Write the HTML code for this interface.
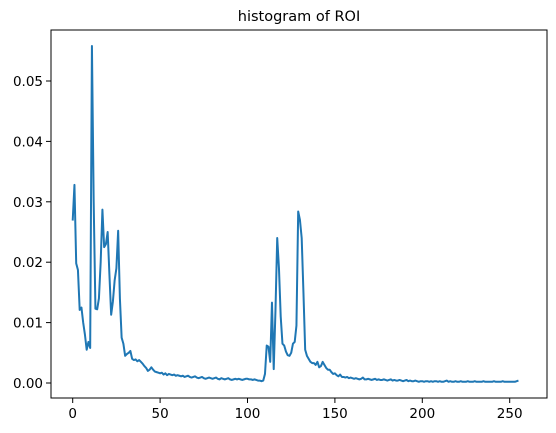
<!DOCTYPE html>
<html><head><meta charset="utf-8"><style>
html,body{margin:0;padding:0;background:#fff;}
svg{display:block;font-family:"DejaVu Sans","Liberation Sans",sans-serif;}
</style></head><body>
<svg id="chart" width="556" height="433">
<text x="299" y="21" text-anchor="middle" font-size="14.5">histogram of ROI</text>
<g id="plot"></g>
<rect x="51" y="30" width="496" height="368" fill="none" stroke="#000" stroke-width="1"/>
</svg>
<script>
const xTicks = [0, 50, 100, 150, 200, 250];
const yTicks = [0.00, 0.01, 0.02, 0.03, 0.04, 0.05];
const yTickLabels = ["0.00", "0.01", "0.02", "0.03", "0.04", "0.05"];
const histValues = [
.0269,.0328,.0198,.0187,.0121,.0125,.0100,.0080,.0055,
.0068,.0058,.0558,.0300,.0123,.0122,.0140,.0200,.0287,.0225,
.0230,.0250,.0180,.0113,.0135,.0170,.0190,.0252,.0140,.0075,
.0065,.0045,.0048,.0050,.0053,.0040,.0038,.0039,.0036,.0038,
.0035,.0032,.0028,.0025,.0020,.0022,.0026,.0022,.0019,.0018,
.0017,.0016,.0017,.0014,.0016,.0013,.0015,.0014,.0013,.0014,
.0012,.0013,.0012,.0011,.0012,.0010,.0011,.0012,.0010,.0009,
.0010,.0011,.0009,.0008,.0009,.0010,.0008,.0007,.0008,.0009,
.0008,.0007,.0008,.0009,.0007,.0006,.0008,.0007,.0006,.0007,
.0008,.0006,.0005,.0006,.0007,.0006,.0007,.0006,.0005,.0006,
.0007,.0007,.0006,.0006,.0005,.0006,.0005,.0004,.0004,.0003,.0004,
.0015,.0062,.0060,.0035,.0133,.0023,.0120,.0240,.0190,.0110,
.0065,.0062,.0052,.0046,.0045,.0050,.0065,.0068,.0095,.0284,
.0270,.0240,.0150,.0055,.0045,.0040,.0035,.0033,.0033,.0030,
.0035,.0026,.0028,.0035,.0030,.0025,.0022,.0022,.0018,.0015,
.0016,.0013,.0011,.0014,.0010,.0010,.0009,.0010,.0008,.0009,
.0008,.0007,.0008,.0007,.0006,.0007,.0009,.0006,.0006,.0007,
.0006,.0005,.0006,.0007,.0005,.0006,.0005,.0005,.0006,.0005,
.0004,.0005,.0006,.0004,.0005,.0004,.0004,.0005,.0004,.0003,
.0004,.0005,.0003,.0004,.0003,.0003,.0004,.0003,.0002,.0003,
.0003,.0002,.0003,.0003,.0002,.0003,.0002,.0003,.0003,.0002,
.0003,.0002,.0002,.0003,.0004,.0002,.0003,.0002,.0002,.0003,
.0002,.0002,.0003,.0002,.0002,.0002,.0003,.0002,.0002,.0002,
.0003,.0002,.0002,.0002,.0002,.0003,.0002,.0002,.0002,.0002,
.0002,.0003,.0002,.0002,.0002,.0002,.0003,.0002,.0002,.0002,
.0002,.0002,.0002,.0002,.0003,.0004
];
const NS = "http://www.w3.org/2000/svg";
const X = v => 72.7 + v * 1.748;
const Y = v => 383 - v * 6040;
const g = document.getElementById("plot");
function mk(tag, attrs) { const e = document.createElementNS(NS, tag); for (const k in attrs) e.setAttribute(k, attrs[k]); g.appendChild(e); return e; }
xTicks.forEach(t => {
  const l = mk("line", {x1: X(t), x2: X(t), y1: 398, y2: 403, stroke: "#000"});
  
  
  const tx = mk("text", {x: X(t), y: 418, "text-anchor": "middle", "font-size": "13.5"});
  tx.textContent = t;
  
  
});
yTicks.forEach((t, i) => {
  const l = mk("line", {x1: 46, x2: 51, y1: Y(t), y2: Y(t), stroke: "#000"});
  
  
  const tx = mk("text", {x: 43, y: Y(t) + 5, "text-anchor": "end", "font-size": "13.5"});
  tx.textContent = yTickLabels[i];
  
  
});
const pts = histValues.map((v, i) => X(i).toFixed(2) + "," + Y(v).toFixed(2)).join(" ");
const line = mk("polyline", {points: pts, fill: "none", stroke: "#1f77b4", "stroke-width": "2", "stroke-linejoin": "round"});


</script>
</body></html>
